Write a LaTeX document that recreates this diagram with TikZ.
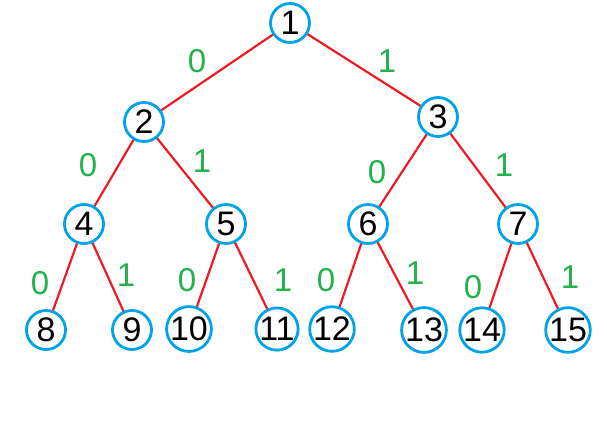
\documentclass[tikz,border=0pt]{standalone}
\usepackage{fontspec}
\setmainfont{Liberation Sans}
\definecolor{paintblue}{RGB}{0,162,232}
\definecolor{paintred}{RGB}{237,28,36}
\definecolor{paintgreen}{RGB}{34,177,76}
\begin{document}
\begin{tikzpicture}[
  x=1pt, y=-1pt,
  vert/.style={circle, draw=paintblue, line width=2.8pt, fill=white,
               minimum size=39pt, inner sep=0pt,
               font=\fontsize{34}{34}\selectfont},
  edge/.style={draw=paintred, line width=2.2pt},
  bit/.style={text=paintgreen, inner sep=0pt, font=\fontsize{33}{33}\selectfont}
]
\useasboundingbox (0,0) rectangle (607,424);

% edges first, so the circles sit on top
\coordinate (c1)  at (290,23);
\coordinate (c2)  at (144,122);
\coordinate (c3)  at (438,117);
\coordinate (c4)  at (84,224);
\coordinate (c5)  at (226,224);
\coordinate (c6)  at (368,224);
\coordinate (c7)  at (518,224);
\coordinate (c8)  at (46,330);
\coordinate (c9)  at (132,330);
\coordinate (c10) at (189,329);
\coordinate (c11) at (277,329);
\coordinate (c12) at (332,329);
\coordinate (c13) at (424,330);
\coordinate (c14) at (482,330);
\coordinate (c15) at (568,330);

\draw[edge] (c1) -- (c2);
\draw[edge] (c1) -- (c3);
\draw[edge] (c2) -- (c4);
\draw[edge] (c2) -- (c5);
\draw[edge] (c3) -- (c6);
\draw[edge] (c3) -- (c7);
\draw[edge] (c4) -- (c8);
\draw[edge] (c4) -- (c9);
\draw[edge] (c5) -- (c10);
\draw[edge] (c5) -- (c11);
\draw[edge] (c6) -- (c12);
\draw[edge] (c6) -- (c13);
\draw[edge] (c7) -- (c14);
\draw[edge] (c7) -- (c15);

% vertices
\foreach \n in {1,...,15}
  \node[vert] (v\n) at (c\n) {\n};

% branch bits
\node[bit] (b12)  at (197,61)  {0};
\node[bit] (b13)  at (387,61)  {1};
\node[bit] (b24)  at (88,165)  {0};
\node[bit] (b25)  at (202,161) {1};
\node[bit] (b36)  at (377,172) {0};
\node[bit] (b37)  at (504,165) {1};
\node[bit] (b48)  at (40,283)  {0};
\node[bit] (b49)  at (126,275) {1};
\node[bit] (b510) at (187,280) {0};
\node[bit] (b511) at (283,280) {1};
\node[bit] (b612) at (326,280) {0};
\node[bit] (b613) at (415,273) {1};
\node[bit] (b714) at (473,287) {0};
\node[bit] (b715) at (570,277) {1};
\end{tikzpicture}
\end{document}
